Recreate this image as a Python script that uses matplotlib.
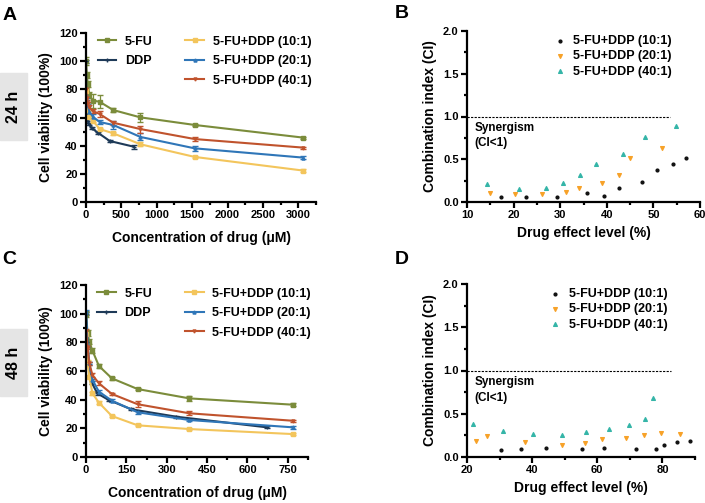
import matplotlib
matplotlib.use("Agg")
import matplotlib.pyplot as plt
from matplotlib.lines import Line2D
from matplotlib.patches import Rectangle
from matplotlib.ticker import MultipleLocator

plt.rcParams['font.family'] = ['Liberation Sans', 'DejaVu Sans']
plt.rcParams['font.weight'] = 'bold'
plt.rcParams['axes.labelweight'] = 'bold'

# ---- 24 h viability (%) ----
conc_24 = [0, 12, 24, 48, 96, 192, 384, 768, 1536, 3072]
conc_ddp_24 = [0, 5.25, 10.5, 21, 42, 84, 168, 336, 672]
fu_24 = [100, 90, 84, 76, 72, 71.2, 65.3, 60.1, 54.7, 45.7]
ddp_24 = [100, 66, 61, 58.2, 55.4, 52.3, 49.2, 43.3, 39.3]
c10_24 = [79, 68, 65.3, 60.6, 57.8, 51.8, 48.8, 41, 32, 22.3]
c20_24 = [76, 72, 68.9, 64.1, 60.6, 56.8, 54.7, 46.2, 38.1, 31.5]
c40_24 = [80, 74, 70, 67.2, 64.6, 62.5, 56.3, 51.8, 44.7, 38.6]
fu_24_err = [3, 2, 2, 2, 5, 4.5, 1.5, 3, 1, 0.8]
ddp_24_err = [1, 1, 1, 1, 1, 0.8, 0.8, 0.8, 1.5]
c10_24_err = [2, 1.5, 1, 1, 1, 1, 1, 1.5, 1, 0.8]
c20_24_err = [1.5, 1.5, 1, 1.5, 2, 1.5, 3, 2.5, 2, 1.2]
c40_24_err = [1.5, 1.5, 1, 1.5, 1.5, 2, 1.5, 2.5, 1.5, 0.8]

# ---- 48 h viability (%) ----
conc_48 = [0, 6, 12, 24, 48, 96, 192, 384, 768]
conc_ddp_48 = [0, 5.25, 10.5, 21, 42, 84, 168, 336, 672]
fu_48 = [100, 86.3, 80.5, 74.2, 63.5, 54.9, 47.4, 40.9, 36.5]
ddp_48 = [100, 80, 65, 52, 44.4, 39.8, 33.3, 28.1, 20.7]
c10_48 = [86, 66, 56, 44.4, 37.9, 28.6, 22.1, 19.5, 16]
c20_48 = [101, 78, 65.6, 53.7, 45.6, 39.3, 31.2, 25.8, 20.7]
c40_48 = [88, 77, 65.4, 57.2, 51.4, 44, 36.8, 30.5, 25.3]
fu_48_err = [2, 2, 1.5, 1.5, 1.5, 1, 1, 1.5, 1]
ddp_48_err = [1, 1, 1, 1, 1, 0.8, 0.8, 0.8, 0.8]
c10_48_err = [1.5, 1.5, 1, 1, 1, 0.8, 0.8, 0.8, 0.8]
c20_48_err = [1.5, 1.5, 1, 1, 1, 1, 1, 1, 1.2]
c40_48_err = [1.5, 1.5, 1, 1.5, 1.5, 1, 2, 1.5, 0.8]

# ---- combination index, 24 h ----
fa_10_24 = [17.4, 22.7, 29.4, 35.8, 39.4, 42.6, 47.6, 50.7, 54.3, 57.1]
ci_10_24 = [0.062, 0.062, 0.062, 0.109, 0.074, 0.167, 0.23, 0.374, 0.444, 0.51]
fa_20_24 = [14.9, 20.3, 26.2, 31.2, 34.1, 39.0, 42.7, 45.0, 51.8]
ci_20_24 = [0.10, 0.094, 0.094, 0.113, 0.164, 0.218, 0.316, 0.52, 0.628]
fa_40_24 = [14.2, 21.2, 26.9, 30.5, 34.2, 37.7, 43.5, 48.2, 54.9]
ci_40_24 = [0.21, 0.152, 0.16, 0.218, 0.312, 0.45, 0.56, 0.764, 0.889]

# ---- combination index, 48 h ----
fa_10_48 = [30.4, 36.6, 44.3, 55.4, 62.2, 71.9, 78.0, 80.5, 84.4, 88.5]
ci_10_48 = [0.085, 0.097, 0.105, 0.089, 0.105, 0.089, 0.097, 0.143, 0.174, 0.186]
fa_20_48 = [22.7, 26.1, 37.8, 49.2, 56.3, 61.3, 68.9, 74.3, 79.7, 85.4]
ci_20_48 = [0.182, 0.248, 0.171, 0.14, 0.159, 0.209, 0.217, 0.255, 0.283, 0.263]
fa_40_48 = [21.8, 31.0, 40.2, 49.2, 56.5, 63.6, 69.6, 74.8, 77.2]
ci_40_48 = [0.387, 0.298, 0.263, 0.259, 0.286, 0.321, 0.371, 0.445, 0.685]

C_FU = '#7b8c3b'
C_DDP = '#1e3a58'
C_10 = '#f3c55c'
C_20 = '#2f76b8'
C_40 = '#c0532d'
S_10 = '#111111'
S_20 = '#f7a229'
S_40 = '#35b5a8'

fig = plt.figure(figsize=(7.05, 5.03), dpi=100)
W, H = 705, 503


def px_axes(l, t, r, b):
    return fig.add_axes([l / W, 1 - b / H, (r - l) / W, (b - t) / H])


def style(ax):
    for s in ['top', 'right']:
        ax.spines[s].set_visible(False)
    for s in ['left', 'bottom']:
        ax.spines[s].set_linewidth(1.6)
    ax.tick_params(which='major', width=1.6, length=4, labelsize=8, pad=2)
    ax.tick_params(which='minor', width=1.6, length=2.5)


def viability(ax, conc, conc_ddp, fu, ddp, c10, c20, c40, errs, xmax, xmaj, xmin):
    series = [(conc, fu, errs[0], C_FU, 's'),
              (conc_ddp, ddp, errs[1], C_DDP, '+'),
              (conc, c10, errs[2], C_10, 's'),
              (conc, c20, errs[3], C_20, '^'),
              (conc, c40, errs[4], C_40, 'v')]
    for x, y, e, c, m in series:
        ax.errorbar(x, y, yerr=e, color=c, lw=1.5, marker=m, ms=2.2,
                    mew=1, elinewidth=0.9, capsize=2, capthick=0.9)
    ax.set_xlim(0, xmax)
    ax.set_ylim(0, 120)
    ax.xaxis.set_major_locator(MultipleLocator(xmaj))
    ax.xaxis.set_minor_locator(MultipleLocator(xmin))
    ax.yaxis.set_major_locator(MultipleLocator(20))
    ax.yaxis.set_minor_locator(MultipleLocator(10))
    style(ax)
    ax.set_ylabel('Cell viability (100%)', fontsize=10, labelpad=4)
    ax.set_xlabel('Concentration of drug (\u03bcM)', fontsize=10, labelpad=8)
    h = [Line2D([], [], color=C_FU, lw=1.5, marker='s', ms=2.2),
         Line2D([], [], color=C_DDP, lw=1.5, marker='+', ms=2.2),
         Line2D([], [], color='none'),
         Line2D([], [], color=C_10, lw=1.5, marker='s', ms=2.2),
         Line2D([], [], color=C_20, lw=1.5, marker='^', ms=2.2),
         Line2D([], [], color=C_40, lw=1.5, marker='v', ms=2.2)]
    labels = ['5-FU', 'DDP', ' ', '5-FU+DDP (10:1)', '5-FU+DDP (20:1)', '5-FU+DDP (40:1)']
    ax.legend(h, labels, ncol=2, loc='upper left', bbox_to_anchor=(0.05, 0.985),
              frameon=False, fontsize=9, handlelength=1.5, handletextpad=0.7,
              columnspacing=2.6, labelspacing=0.6, borderpad=0, borderaxespad=0)


def ci_plot(ax, d, xlim, xmaj, xmin, line_end, txt_x):
    (f10, c10), (f20, c20), (f40, c40) = d
    ax.scatter(f10, c10, s=4, marker='o', color=S_10, label='5-FU+DDP (10:1)', zorder=3)
    ax.scatter(f20, c20, s=7, marker='v', color=S_20, label='5-FU+DDP (20:1)', zorder=3)
    ax.scatter(f40, c40, s=7, marker='^', color=S_40, label='5-FU+DDP (40:1)', zorder=3)
    ax.plot([xlim[0], line_end], [1, 1], color='black', ls='--', lw=0.8, dashes=(2, 1.2))
    ax.text(txt_x, 0.775, 'Synergism\n(CI<1)', fontsize=8.5, va='center', ha='left', linespacing=1.35)
    ax.set_xlim(*xlim)
    ax.set_ylim(0, 2.0)
    ax.xaxis.set_major_locator(MultipleLocator(xmaj))
    ax.xaxis.set_minor_locator(MultipleLocator(xmin))
    ax.yaxis.set_major_locator(MultipleLocator(0.5))
    ax.yaxis.set_minor_locator(MultipleLocator(0.25))
    style(ax)
    ax.set_ylabel('Combination index (CI)', fontsize=10, labelpad=4)
    ax.set_xlabel('Drug effect level (%)', fontsize=10, labelpad=4)
    ax.legend(loc='upper right', bbox_to_anchor=(0.88, 0.975), frameon=False,
              fontsize=9, handlelength=1.0, handletextpad=0.6,
              labelspacing=0.25, borderpad=0, borderaxespad=0, scatterpoints=1)


axA = px_axes(86, 33, 316, 202)
viability(axA, conc_24, conc_ddp_24, fu_24, ddp_24, c10_24, c20_24, c40_24,
          [fu_24_err, ddp_24_err, c10_24_err, c20_24_err, c40_24_err], 3250, 500, 250)

axC = px_axes(86, 285, 308, 457)
viability(axC, conc_48, conc_ddp_48, fu_48, ddp_48, c10_48, c20_48, c40_48,
          [fu_48_err, ddp_48_err, c10_48_err, c20_48_err, c40_48_err], 825, 150, 75)

axB = px_axes(467, 31, 700, 202)
ci_plot(axB, [(fa_10_24, ci_10_24), (fa_20_24, ci_20_24), (fa_40_24, ci_40_24)],
        (10, 60), 10, 5, 53.5, 11.6)

axD = px_axes(467, 284, 695, 457)
ci_plot(axD, [(fa_10_48, ci_10_48), (fa_20_48, ci_20_48), (fa_40_48, ci_40_48)],
        (20, 90), 20, 10, 82.5, 22.2)

# panel letters
for letter, x, y in [('A', 10, 15), ('B', 402, 13), ('C', 9, 259), ('D', 402, 259)]:
    fig.text(x / W, 1 - y / H, letter, fontsize=14, fontweight='bold', ha='center', va='center')

# time labels in grey boxes
for lab, top, bot in [('24 h', 73, 140), ('48 h', 329, 396)]:
    fig.patches.append(Rectangle((0, 1 - bot / H), 27 / W, (bot - top) / H,
                                 transform=fig.transFigure, color='#e5e5e5', zorder=0))
    fig.text(14 / W, 1 - (top + bot) / 2 / H, lab, rotation=90, fontsize=11.5,
             fontweight='bold', ha='center', va='center')

fig.savefig('out.png', dpi=100)
